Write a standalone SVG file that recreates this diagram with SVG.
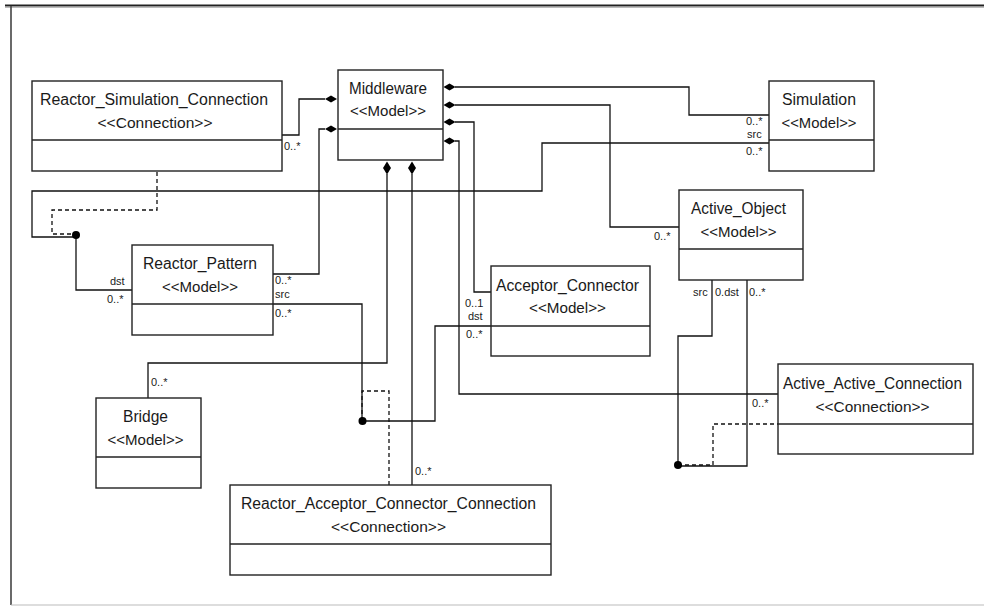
<svg xmlns="http://www.w3.org/2000/svg" width="984" height="606" viewBox="0 0 984 606">
<style>
.box{fill:#fff;stroke:#222;stroke-width:1.4}
.div{stroke:#222;stroke-width:1.4}
.ln{fill:none;stroke:#111;stroke-width:1.3}
.dash{fill:none;stroke:#111;stroke-width:1.3;stroke-dasharray:4 3}
.t{font-family:"Liberation Sans",Arial,sans-serif;font-size:16px;fill:#1a1a1a;text-anchor:middle}
.s{font-family:"Liberation Sans",Arial,sans-serif;font-size:15px;fill:#1a1a1a;text-anchor:middle}
.m{font-family:"Liberation Sans",Arial,sans-serif;font-size:11px;fill:#1a1a1a}
.dot{fill:#000}
</style>
<defs>
<path id="dh" d="M-6,0 L0,-3.5 L6,0 L0,3.5 Z" fill="#000"/>
<path id="dv" d="M0,-6.5 L4,0 L0,6.5 L-4,0 Z" fill="#000"/>
</defs>
<g id="frame">
<line x1="5" y1="5.5" x2="984" y2="5.5" stroke="#222" stroke-width="2"/>
<line x1="5" y1="7.3" x2="984" y2="7.3" stroke="#aaa" stroke-width="1"/>
<line x1="11" y1="6" x2="11" y2="605" stroke="#444" stroke-width="1.6"/>
<line x1="11" y1="605" x2="984" y2="605" stroke="#bbb" stroke-width="1.2"/>
</g>
<g id="connectors">
<polyline class="ln" points="282,135 299,135 299,99 325,99"/>
<polyline class="ln" points="325,129 319,129 319,274 273,274"/>
<polyline class="ln" points="273,304 362,304 362,421"/>
<polyline class="ln" points="362,421 435,421 435,326 491,326"/>
<polyline class="dash" points="362,421 362,391 389,391 389,485"/>
<polyline class="ln" points="387,174 387,363 148,363 148,398"/>
<polyline class="ln" points="412,174 412,485"/>
<polyline class="ln" points="455,87 689,87 689,115 769,115"/>
<polyline class="ln" points="769,143 542,143 542,191 32,191 32,237 76,237"/>
<polyline class="ln" points="76,237 76,290 132,290"/>
<polyline class="dash" points="157,172 157,210 52,210 52,234 76,234"/>
<polyline class="ln" points="455,105 610,105 610,227 679,227"/>
<polyline class="ln" points="455,122 474,122 474,292 491,292"/>
<polyline class="ln" points="455,141 459,141 459,394 778,394"/>
<polyline class="ln" points="712,280 712,336 678,336 678,465"/>
<polyline class="ln" points="747,280 747,466 678,466"/>
<polyline class="dash" points="678,465 713,465 713,424 778,424"/>
<use href="#dh" x="331" y="99"/>
<use href="#dh" x="331" y="129"/>
<use href="#dh" x="449.5" y="87"/>
<use href="#dh" x="449.5" y="105"/>
<use href="#dh" x="449.5" y="122"/>
<use href="#dh" x="449.5" y="141"/>
<use href="#dv" x="387" y="168"/>
<use href="#dv" x="412" y="168"/>
<circle class="dot" cx="76" cy="235" r="4"/>
<circle class="dot" cx="362.5" cy="421" r="4"/>
<circle class="dot" cx="678" cy="465" r="4"/>
<text class="m" x="284" y="150">0..*</text>
<text class="m" x="275" y="284">0..*</text>
<text class="m" x="275" y="298">src</text>
<text class="m" x="275" y="317">0..*</text>
<text class="m" x="110" y="285">dst</text>
<text class="m" x="107" y="303">0..*</text>
<text class="m" x="465" y="307">0..1</text>
<text class="m" x="468" y="320">dst</text>
<text class="m" x="466" y="338">0..*</text>
<text class="m" x="151" y="386">0..*</text>
<text class="m" x="415" y="475">0..*</text>
<text class="m" x="746" y="125">0..*</text>
<text class="m" x="747" y="138">src</text>
<text class="m" x="746" y="155">0..*</text>
<text class="m" x="654" y="240">0..*</text>
<text class="m" x="752" y="407">0..*</text>
<text class="m" x="693" y="296">src</text>
<text class="m" x="715" y="296">0.dst</text>
<text class="m" x="749" y="296">0..*</text>
</g>
<g id="Reactor_Simulation_Connection">
<rect class="box" x="32" y="81" width="250" height="90"/>
<line class="div" x1="32" y1="140" x2="282" y2="140"/>
<text class="t" x="154" y="105" textLength="228" lengthAdjust="spacingAndGlyphs">Reactor_Simulation_Connection</text>
<text class="s" x="155" y="128" textLength="115" lengthAdjust="spacingAndGlyphs">&lt;&lt;Connection&gt;&gt;</text>
</g>
<g id="Middleware">
<rect class="box" x="338" y="70" width="105" height="90"/>
<line class="div" x1="338" y1="129" x2="443" y2="129"/>
<text class="t" x="388" y="94" textLength="78" lengthAdjust="spacingAndGlyphs">Middleware</text>
<text class="s" x="388" y="116" textLength="76" lengthAdjust="spacingAndGlyphs">&lt;&lt;Model&gt;&gt;</text>
</g>
<g id="Simulation">
<rect class="box" x="769" y="81" width="105" height="90"/>
<line class="div" x1="769" y1="140" x2="874" y2="140"/>
<text class="t" x="819" y="105" textLength="74" lengthAdjust="spacingAndGlyphs">Simulation</text>
<text class="s" x="819" y="128" textLength="75" lengthAdjust="spacingAndGlyphs">&lt;&lt;Model&gt;&gt;</text>
</g>
<g id="Active_Object">
<rect class="box" x="679" y="190" width="124" height="90"/>
<line class="div" x1="679" y1="249" x2="803" y2="249"/>
<text class="t" x="738.5" y="214" textLength="95" lengthAdjust="spacingAndGlyphs">Active_Object</text>
<text class="s" x="738.5" y="237" textLength="76" lengthAdjust="spacingAndGlyphs">&lt;&lt;Model&gt;&gt;</text>
</g>
<g id="Reactor_Pattern">
<rect class="box" x="132" y="245" width="141" height="90"/>
<line class="div" x1="132" y1="304" x2="273" y2="304"/>
<text class="t" x="200" y="269" textLength="114" lengthAdjust="spacingAndGlyphs">Reactor_Pattern</text>
<text class="s" x="200" y="292" textLength="76" lengthAdjust="spacingAndGlyphs">&lt;&lt;Model&gt;&gt;</text>
</g>
<g id="Acceptor_Connector">
<rect class="box" x="491" y="266" width="159" height="90"/>
<line class="div" x1="491" y1="326" x2="650" y2="326"/>
<text class="t" x="567.5" y="291" textLength="143" lengthAdjust="spacingAndGlyphs">Acceptor_Connector</text>
<text class="s" x="567.5" y="313" textLength="77" lengthAdjust="spacingAndGlyphs">&lt;&lt;Model&gt;&gt;</text>
</g>
<g id="Active_Active_Connection">
<rect class="box" x="778" y="364" width="195" height="90"/>
<line class="div" x1="778" y1="424" x2="973" y2="424"/>
<text class="t" x="872.5" y="389" textLength="179" lengthAdjust="spacingAndGlyphs">Active_Active_Connection</text>
<text class="s" x="872.5" y="412" textLength="114" lengthAdjust="spacingAndGlyphs">&lt;&lt;Connection&gt;&gt;</text>
</g>
<g id="Bridge">
<rect class="box" x="96" y="398" width="105" height="90"/>
<line class="div" x1="96" y1="457" x2="201" y2="457"/>
<text class="t" x="145.5" y="422" textLength="45" lengthAdjust="spacingAndGlyphs">Bridge</text>
<text class="s" x="145.5" y="445" textLength="76" lengthAdjust="spacingAndGlyphs">&lt;&lt;Model&gt;&gt;</text>
</g>
<g id="Reactor_Acceptor_Connector_Connection">
<rect class="box" x="230" y="485" width="321" height="90"/>
<line class="div" x1="230" y1="544" x2="551" y2="544"/>
<text class="t" x="388.5" y="509" textLength="295" lengthAdjust="spacingAndGlyphs">Reactor_Acceptor_Connector_Connection</text>
<text class="s" x="388.5" y="532" textLength="115" lengthAdjust="spacingAndGlyphs">&lt;&lt;Connection&gt;&gt;</text>
</g>
</svg>
